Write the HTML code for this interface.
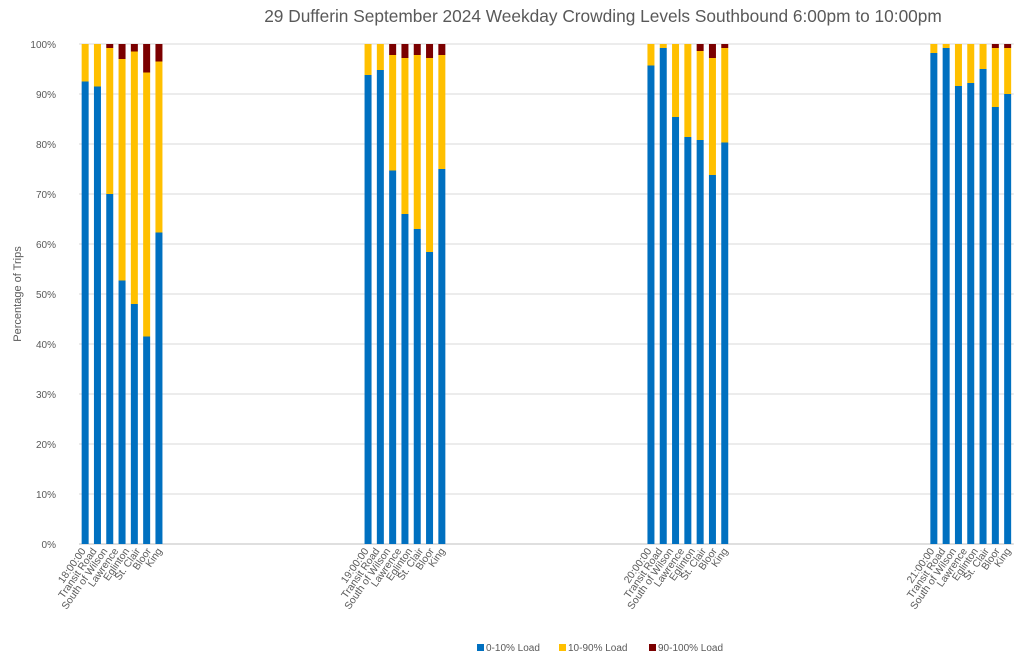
<!DOCTYPE html>
<html><head><meta charset="utf-8"><style>
body{margin:0;background:#fff;}
svg{display:block;font-family:"Liberation Sans",sans-serif;}
</style></head><body>
<svg id="chart" width="1024" height="663">
<text x="603" y="22" text-anchor="middle" font-size="17.3" fill="#595959">29 Dufferin September 2024  Weekday Crowding Levels Southbound 6:00pm to 10:00pm</text>
<text transform="translate(21,294) rotate(-90)" text-anchor="middle" font-size="11" fill="#595959">Percentage of Trips</text>
<g id="grid"></g><g id="bars"></g><g id="xlabels"></g>
<g>
<rect x="477" y="644" width="7" height="7" fill="#0070C0"/>
<text x="486" y="651" font-size="10" fill="#595959">0-10% Load</text>
<rect x="559" y="644" width="7" height="7" fill="#FFC000"/>
<text x="568" y="651" font-size="10" fill="#595959">10-90% Load</text>
<rect x="649" y="644" width="7" height="7" fill="#7B0000"/>
<text x="658" y="651" font-size="10" fill="#595959">90-100% Load</text>
</g>
</svg>
<script>
const hours = ["18:00:00","19:00:00","20:00:00","21:00:00"];
const stops = ["Transit Road","South of Wilson","Lawrence","Eglinton","St. Clair","Bloor","King"];
const lowLoad = [
 [92.5,91.5,70,52.7,48,41.5,62.3],
 [93.8,94.8,74.7,66,63,58.4,75],
 [95.7,99.2,85.4,81.4,80.8,73.8,80.3],
 [98.2,99.2,91.6,92.2,95,87.4,90]
];
const highLoad = [
 [0,0,0.8,3,1.5,5.7,3.5],
 [0,0,2.2,2.8,2.2,2.8,2.2],
 [0,0,0,0,1.4,2.8,0.8],
 [0,0,0,0,0,0.8,0.8]
];
const yTicks = [0,10,20,30,40,50,60,70,80,90,100];

const NS="http://www.w3.org/2000/svg";
const x0=79, slotW=12.3, gap=16, y0=544, y100=44;
function yPos(v){return y0-(v/100)*(y0-y100);}
function slotX(g,i){return x0+(g*(stops.length+gap)+i)*slotW+slotW/2;}
function mk(tag,attrs,parent){const e=document.createElementNS(NS,tag);for(const k in attrs)e.setAttribute(k,attrs[k]);parent.appendChild(e);return e;}
const grid=document.getElementById('grid'),bars=document.getElementById('bars'),xl=document.getElementById('xlabels');
const xEnd=x0+(hours.length*stops.length+(hours.length-1)*gap)*slotW;
yTicks.forEach(t=>{
 const l=mk('line',{x1:x0,x2:xEnd,y1:yPos(t),y2:yPos(t),stroke:t===0?'#bfbfbf':'#d9d9d9','stroke-width':1},grid);
 
 
 const tx=mk('text',{x:56,y:yPos(t)+4,'text-anchor':'end','font-size':10,fill:'#595959'},grid);
 tx.textContent=t+'%';
 
 
});
const bw=7;
hours.forEach((h,g)=>{
 const labels=[h].concat(stops);
 const gStart=slotX(g,0);
 labels.forEach((s,k)=>{
  const lx=gStart+1+k*10.9;
  const t=mk('text',{transform:`translate(${lx},${y0+7}) rotate(-55)`,'text-anchor':'end','font-size':10.3,fill:'#595959'},xl);
  t.textContent=s;
  
  
 });
 stops.forEach((s,i)=>{
  const cx=slotX(g,i), lo=lowLoad[g][i], hi=highLoad[g][i], mid=100-lo-hi;
  const segs=[[0,lo,'#0070C0','low'],[lo,lo+mid,'#FFC000','mid'],[lo+mid,100,'#7B0000','high']];
  segs.forEach(sg=>{
   if(sg[1]-sg[0]<=0)return;
   const r=mk('rect',{x:cx-bw/2,y:yPos(sg[1]),width:bw,height:yPos(sg[0])-yPos(sg[1]),fill:sg[2]},bars);
   
   
  });
 });
});
</script>
</body></html>
